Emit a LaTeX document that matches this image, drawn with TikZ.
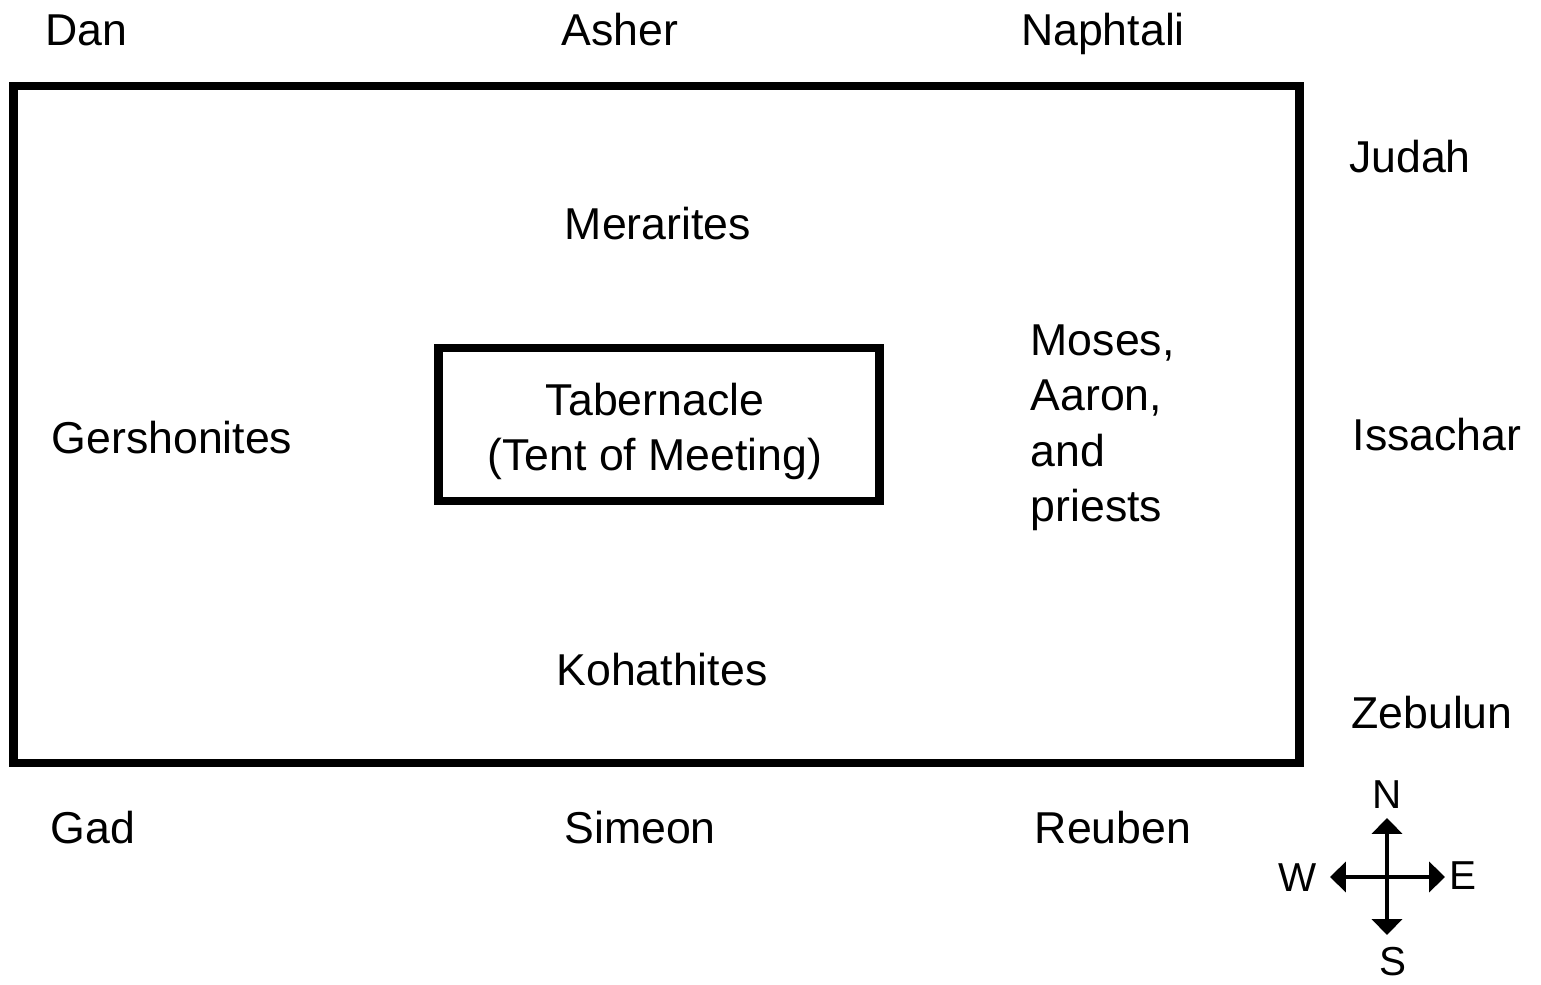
\documentclass[tikz,border=0pt]{standalone}
\usepackage{fontspec, tkz-euclide}
\setmainfont{Liberation Sans}
\usetikzlibrary{arrows.meta}
\tikzset{>={Triangle[length=4.5pt,width=8.5pt]}}
\tikzset{tribe/.style={anchor=base, inner sep=0pt, font=\fontsize{12.7}{15.8}\selectfont},
         wind/.style={inner sep=0pt, font=\fontsize{11.5}{14}\selectfont}}

\begin{document}
\begin{tikzpicture}
    \useasboundingbox (0,0) rectangle (15.41,9.85);
    \tkzDefPoints{0.135/2.22/A, 12.995/2.22/B, 12.995/8.99/C, 0.135/8.99/D}
    \tkzDefPoints{4.385/4.84/E, 8.795/4.84/F, 8.795/6.37/G, 4.385/6.37/H}
    \tkzDefPoints{13.87/1.67/Nc, 13.87/0.50/Sc, 13.30/1.08/Wc, 14.45/1.08/Ec}
    \tkzDrawPolygon[line width=2.3pt, line join=miter, line cap=butt](A,B,C,D)
    \tkzDrawPolygon[line width=2.5pt, line join=miter, line cap=butt](E,F,G,H)
    \tkzDrawSegments[<->, line width=1.1pt, line cap=butt](Wc,Ec Nc,Sc)
    % tribes round the camp
    \node[tribe] (dan) at (0.86,9.39) {Dan};
    \node[tribe] (asher) at (6.20,9.39) {Asher};
    \node[tribe] (naphtali) at (11.03,9.39) {Naphtali};
    \node[tribe] (judah) at (14.10,8.12) {Judah};
    \node[tribe] (issachar) at (14.37,5.34) {Issachar};
    \node[tribe] (zebulun) at (14.32,2.56) {Zebulun};
    \node[tribe] (gad) at (0.93,1.41) {Gad};
    \node[tribe] (simeon) at (6.40,1.41) {Simeon};
    \node[tribe] (reuben) at (11.13,1.41) {Reuben};
    % levites inside
    \node[tribe] (merarites) at (6.58,7.45) {Merarites};
    \node[tribe] (gershonites) at (1.72,5.31) {Gershonites};
    \node[tribe] (kohathites) at (6.62,2.99) {Kohathites};
    \node[tribe, anchor=north west, align=left] (moses) at (10.30,6.61) {Moses,\\Aaron,\\and\\priests};
    \node[tribe, anchor=north, align=center] (tent) at (6.55,6.03) {Tabernacle\\(Tent of Meeting)};
    % compass
    \node[wind] (north) at (13.87,1.90) {N};
    \node[wind] (south) at (13.93,0.23) {S};
    \node[wind] (west) at (12.98,1.07) {W};
    \node[wind] (east) at (14.63,1.09) {E};
\end{tikzpicture}
\end{document}
